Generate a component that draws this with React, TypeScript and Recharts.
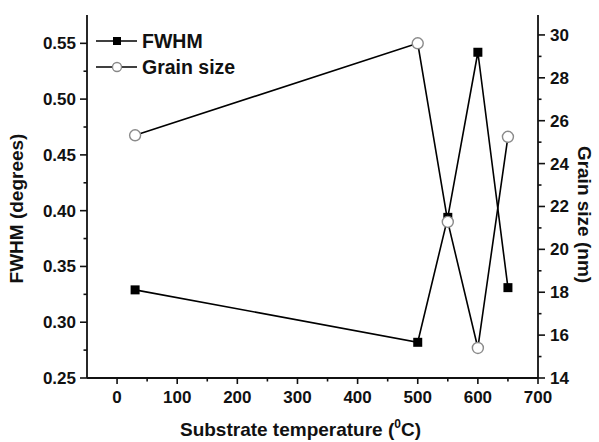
import React from 'react'
import { ComposedChart, Line, XAxis, YAxis } from 'recharts'

// substrate temperature (°C)
const temps = [30, 500, 550, 600, 650]
// FWHM (degrees)
const fwhm = [0.329, 0.282, 0.394, 0.542, 0.331]
// grain size (nm)
const grain = [25.32, 29.61, 21.28, 15.4, 25.25]

const xTicks = [0, 50, 100, 150, 200, 250, 300, 350, 400, 450, 500, 550, 600, 650, 700]
const xLabels = [0, 100, 200, 300, 400, 500, 600, 700]
const leftTicks = [0.25, 0.275, 0.3, 0.325, 0.35, 0.375, 0.4, 0.425, 0.45, 0.475, 0.5, 0.525, 0.55]
const leftLabels = [0.25, 0.3, 0.35, 0.4, 0.45, 0.5, 0.55]
const rightTicks = [14, 15, 16, 17, 18, 19, 20, 21, 22, 23, 24, 25, 26, 27, 28, 29, 30]
const rightLabels = [14, 16, 18, 20, 22, 24, 26, 28, 30]

const seriesNames = { fwhm: 'FWHM', grain: 'Grain size' }

const data = temps.map((t, i) => ({ t, fwhm: fwhm[i], grain: grain[i] }))

const FONT = '"Liberation Sans", Arial, sans-serif'
const AX = '#111'
const TXT = '#111'

const isLabel = (list: number[], v: number) => list.some(l => Math.abs(l - v) < 1e-6)

const XTick = (p: any) => {
  const { x, y, payload } = p
  const major = isLabel(xLabels, payload.value)
  return (
    <g>
      <line x1={x} x2={x} y1={y} y2={y + (major ? 6 : 3.5)} stroke={AX} strokeWidth={1.6} />
      {major && (
        <text x={x} y={y + 25} textAnchor="middle" fontFamily={FONT} fontWeight="bold" fontSize={17} fill={TXT}>
          {payload.value}
        </text>
      )}
    </g>
  )
}

const LeftTick = (p: any) => {
  const { x, y, payload } = p
  const major = isLabel(leftLabels, payload.value)
  return (
    <g>
      <line x1={x} x2={x - (major ? 7 : 3.5)} y1={y} y2={y} stroke={AX} strokeWidth={1.6} />
      {major && (
        <text x={x - 11} y={y + 6} textAnchor="end" fontFamily={FONT} fontWeight="bold" fontSize={17} fill={TXT}>
          {payload.value.toFixed(2)}
        </text>
      )}
    </g>
  )
}

const RightTick = (p: any) => {
  const { x, y, payload } = p
  const major = isLabel(rightLabels, payload.value)
  return (
    <g>
      <line x1={x} x2={x + (major ? 7 : 3.5)} y1={y} y2={y} stroke={AX} strokeWidth={1.6} />
      {major && (
        <text x={x + 12} y={y + 6} textAnchor="start" fontFamily={FONT} fontWeight="bold" fontSize={17} fill={TXT}>
          {payload.value}
        </text>
      )}
    </g>
  )
}

const SquareDot = (p: any) => (
  <rect key={`sq-${p.index}`} x={p.cx - 4.5} y={p.cy - 4.5} width={9} height={9} fill="#000" />
)

const Legend = () => (
  <svg width={220} height={64} style={{ position: 'absolute', left: 90, top: 24 }}>
    <g>
      <line x1={6} x2={47} y1={17} y2={17} stroke="#000" strokeWidth={1.5} />
      <rect x={23} y={13} width={8} height={8} fill="#000" />
      <text x={52} y={24} fontFamily={FONT} fontWeight="bold" fontSize={19.5} fill={TXT}>{seriesNames.fwhm}</text>
    </g>
    <g>
      <line x1={6} x2={47} y1={43} y2={43} stroke="#000" strokeWidth={1.5} />
      <circle cx={27} cy={43} r={4.5} fill="#fff" stroke="#888" strokeWidth={1.3} />
      <text x={52} y={50} fontFamily={FONT} fontWeight="bold" fontSize={19.5} fill={TXT}>{seriesNames.grain}</text>
    </g>
  </svg>
)

export default function App() {
  return (
    <div style={{ position: 'absolute', left: 0, top: 0, width: 599, height: 442, background: '#fff' }}>
      <ComposedChart width={599} height={442} data={data} margin={{ top: 15, right: 0, bottom: 0, left: 0 }}>
        <XAxis
          xAxisId="b"
          dataKey="t"
          type="number"
          domain={[-50, 700]}
          ticks={xTicks}
          allowDataOverflow
          height={64}
          tickSize={0}
          tickMargin={0}
          tickLine={false}
          tick={XTick}
          axisLine={{ stroke: AX, strokeWidth: 1.8 }}
          interval={0}
          label={(lp: any) => {
            const vb = lp.viewBox
            return (
              <text x={vb.x + vb.width / 2 - 12} y={vb.y + 58} textAnchor="middle" fontFamily={FONT} fontWeight="bold" fontSize={19} fill={TXT}>
                <tspan>Substrate temperature (</tspan>
                <tspan dy={-8} fontSize={12}>0</tspan>
                <tspan dy={8}>C)</tspan>
              </text>
            )
          }}
        />
        <XAxis
          xAxisId="top"
          orientation="top"
          type="number"
          domain={[-50, 700]}
          height={0}
          tick={false}
          tickLine={false}
          axisLine={{ stroke: AX, strokeWidth: 1.8 }}
        />
        <YAxis
          yAxisId="left"
          type="number"
          domain={[0.25, 0.5754]}
          ticks={leftTicks}
          allowDataOverflow
          width={87}
          tickSize={0}
          tickMargin={0}
          tickLine={false}
          tick={LeftTick}
          interval={0}
          axisLine={{ stroke: AX, strokeWidth: 1.8 }}
          label={(lp: any) => {
            const vb = lp.viewBox
            const cx = 16
            const cy = vb.y + vb.height / 2 + 12
            return (
              <text x={cx} y={cy} transform={`rotate(-90 ${cx} ${cy})`} textAnchor="middle" dominantBaseline="central" fontFamily={FONT} fontWeight="bold" fontSize={19} fill={TXT}>
                FWHM (degrees)
              </text>
            )
          }}
        />
        <YAxis
          yAxisId="right"
          orientation="right"
          type="number"
          domain={[14, 30.93]}
          ticks={rightTicks}
          allowDataOverflow
          width={61}
          tickSize={0}
          tickMargin={0}
          tickLine={false}
          tick={RightTick}
          interval={0}
          axisLine={{ stroke: AX, strokeWidth: 1.8 }}
          label={(lp: any) => {
            const vb = lp.viewBox
            const cx = 584
            const cy = vb.y + vb.height / 2 + 18
            return (
              <text x={cx} y={cy} transform={`rotate(90 ${cx} ${cy})`} textAnchor="middle" dominantBaseline="central" fontFamily={FONT} fontWeight="bold" fontSize={19} fill={TXT}>
                Grain size (nm)
              </text>
            )
          }}
        />
        <Line
          xAxisId="b"
          yAxisId="left"
          type="linear"
          dataKey="fwhm"
          name={seriesNames.fwhm}
          stroke="#000"
          strokeWidth={1.6}
          dot={SquareDot}
          activeDot={false}
          isAnimationActive={false}
        />
        <Line
          xAxisId="b"
          yAxisId="right"
          type="linear"
          dataKey="grain"
          name={seriesNames.grain}
          stroke="#000"
          strokeWidth={1.6}
          dot={{ r: 5.5, fill: '#fff', stroke: '#8a8a8a', strokeWidth: 1.4 }}
          activeDot={false}
          isAnimationActive={false}
        />
      </ComposedChart>
      <Legend />
    </div>
  )
}
